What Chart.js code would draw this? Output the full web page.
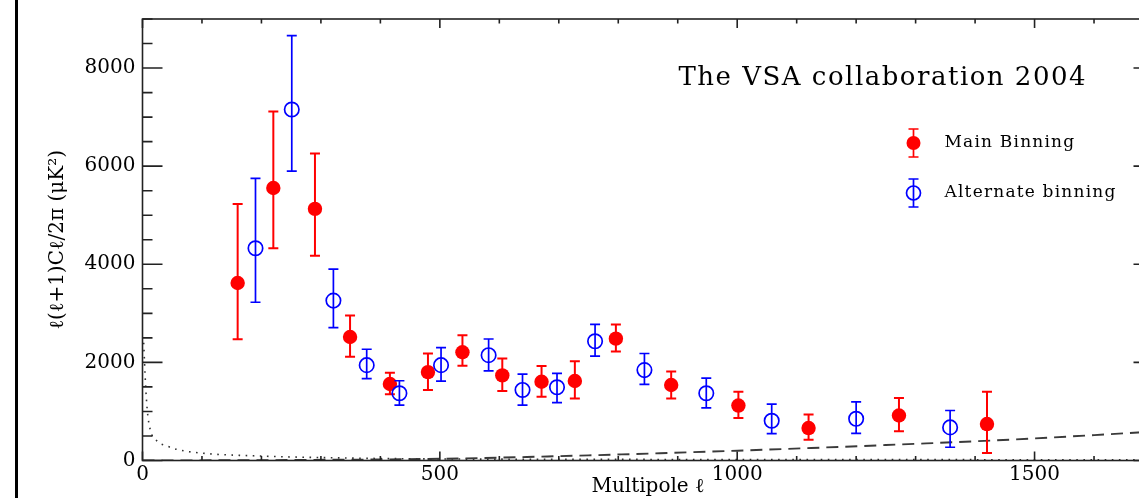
<!DOCTYPE html>
<html>
<head>
<meta charset="utf-8">
<script src="https://cdn.jsdelivr.net/npm/chart.js@4.4.0/dist/chart.umd.min.js"></script>
<style>
html,body{margin:0;padding:0;background:#fff;overflow:hidden;}
#wrap{position:relative;width:1139px;height:498px;overflow:hidden;}
#box{position:absolute;left:0;top:0;width:1165px;height:512px;}
#edge{position:absolute;left:15px;top:0;width:3px;height:498px;background:#000;}
</style>
</head>
<body>
<div id="wrap">
  <div id="box"><canvas id="vsa"></canvas></div>
  <div id="edge"></div>
</div>
<script>
// main binning (red, filled)
const mainEll   = [160, 220, 290, 349, 416, 480, 538, 605, 671, 727, 796, 889, 1002, 1120, 1272, 1420];
const mainPower = [3619, 5555, 5130, 2518, 1559, 1802, 2207, 1735, 1606, 1620, 2484, 1539, 1120, 661, 918, 743];
const mainHigh  = [5231, 7114, 6257, 2957, 1788, 2181, 2552, 2080, 1924, 2025, 2774, 1816, 1404, 938, 1276, 1404];
const mainLow   = [2471, 4327, 4172, 2113, 1350, 1438, 1930, 1418, 1302, 1262, 2221, 1262, 864, 425, 594, 155];

// alternate binning (blue, open)
const altEll   = [190, 251, 321, 377, 432, 502, 582, 639, 697, 761, 844, 948, 1058, 1200, 1358];
const altPower = [4327, 7155, 3260, 1944, 1371, 1944, 2147, 1438, 1492, 2430, 1843, 1371, 810, 850, 675];
const altHigh  = [5751, 8661, 3902, 2268, 1626, 2302, 2477, 1762, 1776, 2774, 2181, 1681, 1148, 1195, 1019];
const altLow   = [3226, 5899, 2707, 1667, 1128, 1620, 1829, 1128, 1181, 2126, 1553, 1073, 547, 553, 270];

// dashed curve
const dashEll   = [0, 250, 500, 750, 1000, 1250, 1500, 1700];
const dashPower = [0, 10, 35, 105, 200, 315, 450, 590];

// dotted curve
const dotEll   = [2, 5, 8, 13, 25, 40, 60, 100, 200, 320, 450, 700, 1000, 1700];
const dotPower = [2400, 1580, 1030, 630, 390, 300, 220, 150, 90, 55, 35, 25, 20, 15];

const xTicks = [0, 500, 1000, 1500];
const yTicks = [0, 2000, 4000, 6000, 8000];
const xMax = 1700, yMax = 9000;

const FONT = '"DejaVu Serif", "Liberation Serif", serif';

function pairs(xs, ys){ return xs.map((v,i)=>({x:v, y:ys[i]})); }
function errorSegments(xs, lo, hi){
  const pts=[];
  xs.forEach((v,i)=>{ pts.push({x:v,y:lo[i]},{x:v,y:hi[i]},{x:v,y:null}); });
  return pts;
}

const frameTicks = {
  id:'frameTicks',
  afterDraw(chart){
    const {ctx, chartArea:a, scales:{x,y}} = chart;
    ctx.save();
    ctx.strokeStyle='#222'; ctx.lineWidth=1.6;
    ctx.strokeRect(a.left,a.top,a.right-a.left,a.bottom-a.top);
    ctx.beginPath();
    for(let v=0; v<=yMax; v+=500){
      const len = v%2000===0 ? 20 : 10;
      const py = y.getPixelForValue(v);
      ctx.moveTo(a.left,py); ctx.lineTo(a.left+len,py);
      ctx.moveTo(a.right,py); ctx.lineTo(a.right-len,py);
    }
    for(let v=0; v<=xMax; v+=100){
      const len = v%500===0 ? 9 : 4.5;
      const px = x.getPixelForValue(v);
      ctx.moveTo(px,a.bottom); ctx.lineTo(px,a.bottom-len);
      ctx.moveTo(px,a.top); ctx.lineTo(px,a.top+len);
    }
    ctx.stroke();

    // title
    ctx.fillStyle='#000';
    ctx.font='26px '+FONT;
    ctx.letterSpacing='1.5px';
    ctx.textBaseline='alphabetic';
    ctx.fillText('The VSA collaboration 2004', a.left+536, a.top+66);

    // legend
    const lx = a.left+771, tx = a.left+802;
    const items = [
      {y:a.top+124, color:'#ff0000', fill:true, label:'Main Binning'},
      {y:a.top+174, color:'#0000ff', fill:false, label:'Alternate binning'}
    ];
    items.forEach(it=>{
      ctx.strokeStyle=it.color; ctx.lineWidth=1.7;
      ctx.beginPath();
      ctx.moveTo(lx,it.y-14); ctx.lineTo(lx,it.y+14);
      ctx.moveTo(lx-5,it.y-14); ctx.lineTo(lx+5,it.y-14);
      ctx.moveTo(lx-5,it.y+14); ctx.lineTo(lx+5,it.y+14);
      ctx.stroke();
      ctx.beginPath(); ctx.arc(lx,it.y,7,0,Math.PI*2);
      if(it.fill){ ctx.fillStyle=it.color; ctx.fill(); }
      else { ctx.stroke(); }
      ctx.fillStyle='#000';
      ctx.font='17px '+FONT;
      ctx.letterSpacing='1.2px';
      ctx.textBaseline='middle';
      ctx.fillText(it.label, tx, it.y);
    });
    ctx.restore();
  }
};

new Chart(document.getElementById('vsa'), {
  type:'scatter',
  data:{datasets:[
    {label:'dotted', data:pairs(dotEll,dotPower), showLine:true, pointRadius:0,
     borderColor:'#333', borderWidth:1.6, borderDash:[1.6,5.5], cubicInterpolationMode:'monotone', order:6},
    {label:'dashed', data:pairs(dashEll,dashPower), showLine:true, pointRadius:0,
     borderColor:'#3a3a3a', borderWidth:1.9, borderDash:[12,7], cubicInterpolationMode:'monotone', order:5},
    {label:'Main Binning err', data:errorSegments(mainEll,mainLow,mainHigh), showLine:true, spanGaps:false,
     borderColor:'#ff0000', borderWidth:2, pointStyle:'line', pointRadius:5, pointBorderWidth:2,
     pointBorderColor:'#ff0000', order:4},
    {label:'Main Binning', data:pairs(mainEll,mainPower), pointStyle:'circle', pointRadius:7.2,
     backgroundColor:'#ff0000', borderColor:'#ff0000', borderWidth:0, order:3},
    {label:'Alternate err', data:errorSegments(altEll,altLow,altHigh), showLine:true, spanGaps:false,
     borderColor:'#0000ff', borderWidth:1.7, pointStyle:'line', pointRadius:5, pointBorderWidth:1.7,
     pointBorderColor:'#0000ff', order:2},
    {label:'Alternate binning', data:pairs(altEll,altPower), pointStyle:'circle', pointRadius:7.2,
     backgroundColor:'rgba(255,255,255,0)', borderColor:'#0000ff', borderWidth:1.7, order:1}
  ]},
  options:{
    responsive:true, maintainAspectRatio:false, animation:false,
    layout:{padding:{top:15, right:11.5, left:0, bottom:0}},
    plugins:{legend:{display:false}, tooltip:{enabled:false}},
    elements:{line:{tension:0}},
    scales:{
      x:{type:'linear', min:0, max:xMax,
        grid:{display:false, drawTicks:false}, border:{display:false},
        afterFit:s=>{ s.height=51.5; },
        afterBuildTicks:s=>{ s.ticks = xTicks.map(v=>({value:v})); },
        ticks:{color:'#000', padding:2, font:{family:FONT, size:20}, callback:v=>String(v), maxRotation:0},
        title:{display:true, text:'Multipole ℓ', color:'#000', font:{family:FONT, size:20}, padding:{top:0,bottom:13}}
      },
      y:{type:'linear', min:0, max:yMax,
        grid:{display:false, drawTicks:false}, border:{display:false},
        afterFit:s=>{ s.width=142.5; },
        afterBuildTicks:s=>{ s.ticks = yTicks.map(v=>({value:v})); },
        ticks:{color:'#000', padding:7, font:{family:FONT, size:20}, callback:v=>String(v)},
        title:{display:true, text:'ℓ(ℓ+1)Cℓ/2π (μK²)', color:'#000', font:{family:FONT, size:20}, padding:{top:46,bottom:0}}
      }
    }
  },
  plugins:[frameTicks]
});
</script>
</body>
</html>
